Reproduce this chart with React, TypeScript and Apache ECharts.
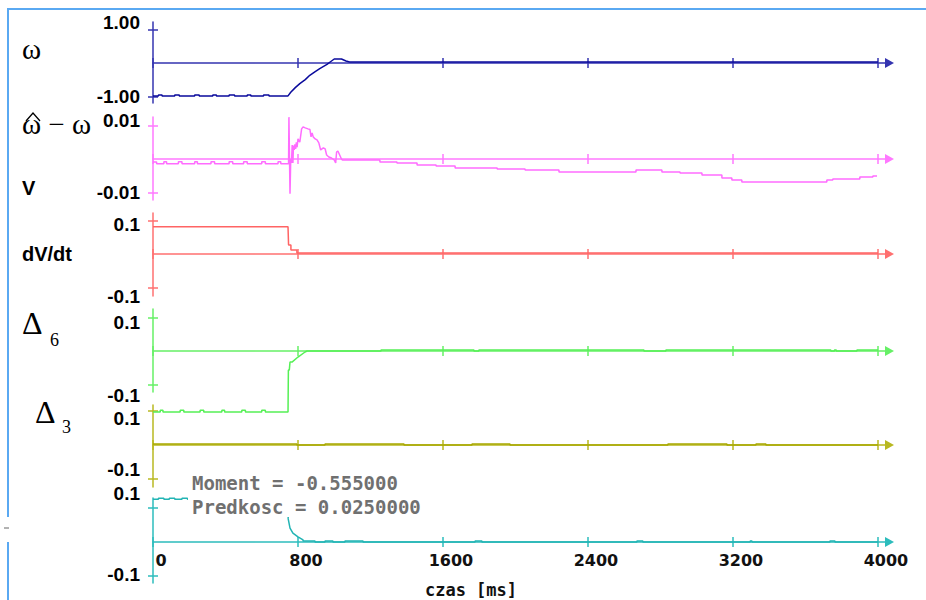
import React, { useEffect, useRef } from 'react';
import * as echarts from 'echarts';

// ---------- data (time in ms, value) ----------
const xTicks = [0, 800, 1600, 2400, 3200, 4000];
const yTickValues = [1, 0.01, 0.1, 0.1, 0.1, 0.1];
const yTickLabels = [
  ['-1.00', '1.00'],
  ['-0.01', '0.01'],
  ['-0.1', '0.1'],
  ['-0.1', '0.1'],
  ['-0.1', '0.1'],
  ['-0.1', '0.1'],
];

const omegaData: [number, number][] = [
  [0, -0.99], [30, -0.99], [30, -0.96], [50, -0.96], [50, -0.99], [120, -0.99], [120, -0.96], [145, -0.96],
  [145, -0.99], [230, -0.99], [230, -0.96], [255, -0.96], [255, -0.99], [330, -0.99], [330, -0.96], [350, -0.96],
  [350, -0.99], [420, -0.99], [420, -0.96], [450, -0.96], [450, -0.99], [520, -0.99], [520, -0.96], [540, -0.96],
  [540, -0.99], [610, -0.99], [610, -0.96], [640, -0.96], [640, -0.99], [745, -0.99],
  [760, -0.88], [785, -0.74], [810, -0.62], [840, -0.5], [865, -0.37], [895, -0.26], [920, -0.17], [960, -0.04],
  [985, 0.06], [1000, 0.12], [1040, 0.12], [1065, 0.06], [1085, 0.03], [4000, 0.03],
];

const errorData: [number, number][] = [
  [0, -0.0009], [20, -0.0009], [20, -0.0014], [60, -0.0014], [60, -0.0008], [75, -0.0008], [75, -0.0014],
  [140, -0.0014], [140, -0.0008], [160, -0.0008], [160, -0.0014], [230, -0.0014], [230, -0.0008], [245, -0.0008],
  [245, -0.0014], [320, -0.0014], [320, -0.0008], [340, -0.0008], [340, -0.0014], [420, -0.0014], [420, -0.0008],
  [440, -0.0008], [440, -0.0014], [500, -0.0014], [500, -0.0008], [520, -0.0008], [520, -0.0014], [600, -0.0014],
  [600, -0.0008], [620, -0.0008], [620, -0.0014], [690, -0.0014], [690, -0.0008], [705, -0.0008], [705, -0.0014],
  [748, -0.0014], [750, 0.0125], [753, 0.0125], [756, -0.0104], [760, 0.0], [764, -0.0012], [768, 0.0042],
  [772, -0.0012], [775, 0.004], [779, 0.0027], [783, 0.0044], [787, 0.003], [791, 0.005], [795, 0.0035],
  [800, 0.006], [810, 0.005], [820, 0.009], [828, 0.0096], [840, 0.0093], [855, 0.009], [866, 0.0088],
  [872, 0.0066], [878, 0.0078], [884, 0.0066], [895, 0.006], [905, 0.0057], [915, 0.0048], [925, 0.0027],
  [940, 0.0033], [950, 0.003], [958, 0.0012], [970, 0.0006], [985, 0.0003], [1000, -0.0003], [1008, -0.0012],
  [1013, 0.0021], [1020, 0.0024], [1030, 0.0012], [1040, 0.0], [1045, -0.0003],
  [1252, -0.0003], [1252, -0.0009], [1346, -0.0009], [1346, -0.0012], [1457, -0.0012], [1457, -0.0018],
  [1562, -0.0018], [1562, -0.0021], [1667, -0.0021], [1667, -0.0027], [1899, -0.0027], [1899, -0.003],
  [2053, -0.003], [2053, -0.0033], [2240, -0.0033], [2240, -0.0039], [2665, -0.0039], [2665, -0.0033],
  [2808, -0.0033], [2808, -0.0039], [2908, -0.0039], [2908, -0.0042], [3029, -0.0042], [3029, -0.0048],
  [3139, -0.0048], [3139, -0.0057], [3194, -0.0057], [3194, -0.0063], [3249, -0.0063], [3249, -0.0069],
  [3718, -0.0069], [3718, -0.0063], [3751, -0.0063], [3751, -0.006], [3900, -0.006], [3900, -0.0054],
  [3972, -0.0054], [3972, -0.0051], [3995, -0.0051],
];

const dVdtData: [number, number][] = [
  [0, 0.081], [745, 0.081], [748, 0.027], [761, 0.027], [761, 0.012], [794, 0.012], [794, 0.003], [4000, 0.003],
];

const delta6Data: [number, number][] = [
  [0, -0.182], [40, -0.182], [40, -0.177], [55, -0.177], [55, -0.182], [150, -0.182], [150, -0.177], [170, -0.177],
  [170, -0.182], [260, -0.182], [260, -0.177], [280, -0.177], [280, -0.182], [380, -0.182], [380, -0.177],
  [395, -0.177], [395, -0.182], [490, -0.182], [490, -0.177], [510, -0.177], [510, -0.182], [600, -0.182],
  [600, -0.177], [620, -0.177], [620, -0.182], [745, -0.182],
  [747, -0.057], [752, -0.057], [756, -0.033], [767, -0.033], [800, -0.018], [839, -0.003], [850, 0],
  [1258, 0], [1258, 0.003], [1771, 0.003], [1771, 0], [1798, 0], [1798, 0.003], [2709, 0.003], [2709, 0],
  [2830, 0], [2830, 0.003], [3740, 0.003], [3740, 0], [3760, 0], [3760, 0.003], [3770, 0.003], [3770, 0],
  [3884, 0], [3884, 0.003], [4000, 0.003],
];

const delta3Data: [number, number][] = [
  [0, 0.003], [794, 0.003], [794, 0], [949, 0], [949, 0.003], [1385, 0.003], [1385, 0], [1760, 0],
  [1760, 0.003], [1970, 0.003], [1970, 0], [2841, 0], [2841, 0.003], [3167, 0.003], [3167, 0], [3327, 0],
  [3327, 0.003], [3382, 0.003], [3382, 0], [4000, 0],
];

const speedData: [number, number][] = [
  [0, 0.126], [30, 0.126], [30, 0.129], [60, 0.129], [60, 0.126], [90, 0.126], [90, 0.129], [120, 0.129],
  [120, 0.126], [160, 0.126], [160, 0.129], [190, 0.129], [190, 0.126], [745, 0.126],
  [746, 0.068], [756, 0.041], [772, 0.026], [800, 0.015], [828, 0.006], [828, 0.003], [894, 0.003], [894, 0],
  [949, 0], [949, 0.003], [993, 0.003], [993, 0], [1059, 0], [1059, 0.003], [1159, 0.003], [1159, 0],
  [1777, 0], [1777, 0.003], [1815, 0.003], [1815, 0], [2670, 0], [2670, 0.003], [2703, 0.003], [2703, 0],
  [3295, 0], [3295, 0.003], [3305, 0.003], [3305, 0], [3735, 0], [3735, 0.003], [3763, 0.003], [3763, 0],
  [4000, 0],
];

const seriesData = [omegaData, errorData, dVdtData, delta6Data, delta3Data, speedData];

// ---------- layout / style ----------
const panels = [
  { top: 22, bottom: 103, min: -1.203, max: 1.233, line: '#0a0a9c', axis: '#3434b0', shift: [0, -7.5] },
  { top: 117, bottom: 200, min: -0.01224, max: 0.01254, line: '#ff6cff', axis: '#ff78ff', shift: [0, -5.5] },
  { top: 213, bottom: 296, min: -0.1254, max: 0.1224, line: '#ff6464', axis: '#ff7070', shift: [9, 4] },
  { top: 309, bottom: 392, min: -0.1224, max: 0.1254, line: '#55f055', axis: '#66f066', shift: [11, 5] },
  { top: 405, bottom: 487, min: -0.1235, max: 0.1176, line: '#a8a800', axis: '#b8b820', shift: [-10, 8] },
  { top: 498, bottom: 583, min: -0.1206, max: 0.1294, line: '#22b4b4', axis: '#2cbcbc', shift: [-1, -14] },
];

const LEFT = 153;
const WIDTH = 734;
const XMAX = 4050;

function pad(shift: number) {
  return shift >= 0 ? [2 * shift, 0, 0, 0] : [0, 0, -2 * shift, 0];
}

export default function App() {
  const ref = useRef<HTMLDivElement>(null);

  useEffect(() => {
    if (!ref.current) return;
    const chart = echarts.init(ref.current, null, { renderer: 'svg' });

    const grid: any[] = [];
    const xAxis: any[] = [];
    const yAxis: any[] = [];
    const series: any[] = [];

    panels.forEach((p, i) => {
      grid.push({ left: LEFT, width: WIDTH, top: p.top, height: p.bottom - p.top, outerBoundsMode: 'none' });
      const t = yTickValues[i];
      const labels = yTickLabels[i];
      const labelFont = { fontFamily: '"Liberation Sans", Arial, sans-serif', fontWeight: 'bold', fontSize: 19, color: '#000' };
      xAxis.push({
        gridIndex: i, type: 'value', min: 0, max: XMAX, position: 'bottom',
        axisLine: {
          onZero: true, onZeroAxisIndex: 2 * i,
          lineStyle: { color: p.axis, width: 1.5 },
          symbol: ['none', 'triangle'], symbolSize: [10, 9], symbolOffset: [0, 2.5],
        },
        axisTick: { show: true, customValues: xTicks, length: 5, lineStyle: { color: p.axis, width: 1.5 } },
        axisLabel: i === 5
          ? {
              show: true, customValues: xTicks, margin: -31, padding: [0, 0, 0, 16],
              formatter: (v: number) => String(v),
              fontFamily: '"DejaVu Sans", sans-serif', fontWeight: 'bold', fontSize: 16, color: '#111',
            }
          : { show: false },
        splitLine: { show: false },
      });
      xAxis.push({
        gridIndex: i, type: 'value', min: 0, max: XMAX, position: 'top',
        axisLine: { show: false, onZero: true, onZeroAxisIndex: 2 * i },
        axisTick: { show: true, customValues: xTicks, length: 5, lineStyle: { color: p.axis, width: 1.5 } },
        axisLabel: { show: false },
        splitLine: { show: false },
      });
      yAxis.push({
        gridIndex: i, type: 'value', min: p.min, max: p.max, position: 'left',
        axisLine: { show: true, onZero: true, onZeroAxisIndex: 2 * i, lineStyle: { color: p.axis, width: 1.5 } },
        axisTick: { show: true, customValues: [-t, t], length: 5, lineStyle: { color: p.axis, width: 1.5 } },
        axisLabel: {
          show: true, customValues: [-t, t], margin: 13,
          formatter: (v: number) => (v > 0 ? `{t|${labels[1]}}` : `{b|${labels[0]}}`),
          rich: {
            t: { ...labelFont, padding: pad(p.shift[1]) },
            b: { ...labelFont, padding: pad(p.shift[0]) },
          },
        },
        splitLine: { show: false },
      });
      yAxis.push({
        gridIndex: i, type: 'value', min: p.min, max: p.max, position: 'right',
        axisLine: { show: false, onZero: true, onZeroAxisIndex: 2 * i },
        axisTick: { show: true, customValues: [-t, t], length: 5, lineStyle: { color: p.axis, width: 1.5 } },
        axisLabel: { show: false },
        splitLine: { show: false },
      });
      series.push({
        type: 'line', xAxisIndex: 2 * i, yAxisIndex: 2 * i, data: seriesData[i],
        showSymbol: false, symbol: 'none', clip: false, z: 3,
        lineStyle: { color: p.line, width: 1.5 },
      });
    });

    const serif = '"Liberation Serif", "Times New Roman", serif';
    const sansBold = 'bold 20px "Liberation Sans", Arial, sans-serif';
    const graphic: any[] = [
      { type: 'line', shape: { x1: 7, y1: 9, x2: 926, y2: 9 }, style: { stroke: '#5aa9f2', lineWidth: 2 } },
      { type: 'line', shape: { x1: 8, y1: 8, x2: 8, y2: 517 }, style: { stroke: '#5aa9f2', lineWidth: 2 } },
      { type: 'line', shape: { x1: 8, y1: 542, x2: 8, y2: 600 }, style: { stroke: '#5aa9f2', lineWidth: 2 } },
      { type: 'line', shape: { x1: 4, y1: 528, x2: 9, y2: 528 }, style: { stroke: '#666', lineWidth: 1 } },
      { type: 'text', x: 22, y: 49, style: { text: 'ω', font: `29px ${serif}`, fill: '#000', verticalAlign: 'middle' } },
      { type: 'polyline', shape: { points: [[26, 121], [33, 113], [40, 121]] }, style: { stroke: '#000', lineWidth: 1.3, fill: 'none' } },
      { type: 'text', x: 22, y: 124, style: { text: 'ω − ω', font: `29px ${serif}`, fill: '#000', verticalAlign: 'middle' } },
      { type: 'text', x: 22, y: 188, style: { text: 'V', font: sansBold, fill: '#000', verticalAlign: 'middle' } },
      { type: 'text', x: 22, y: 254, style: { text: 'dV/dt', font: sansBold, fill: '#000', verticalAlign: 'middle' } },
      { type: 'text', x: 22, y: 323, style: { text: 'Δ', font: `32px ${serif}`, fill: '#000', verticalAlign: 'middle' } },
      { type: 'text', x: 50, y: 340, style: { text: '6', font: `18px ${serif}`, fill: '#000', verticalAlign: 'middle' } },
      { type: 'text', x: 35, y: 412, style: { text: 'Δ', font: `32px ${serif}`, fill: '#000', verticalAlign: 'middle' } },
      { type: 'text', x: 62, y: 427, style: { text: '3', font: `18px ${serif}`, fill: '#000', verticalAlign: 'middle' } },
      { type: 'rect', z: 50, shape: { x: 188, y: 473, width: 240, height: 44 }, style: { fill: '#ffffff' } },
      { type: 'text', z: 51, x: 192, y: 483, style: { text: 'Moment = -0.555000', font: 'bold 19px "DejaVu Sans Mono", monospace', fill: '#707070', verticalAlign: 'middle' } },
      { type: 'text', z: 51, x: 192, y: 507, style: { text: 'Predkosc = 0.0250000', font: 'bold 19px "DejaVu Sans Mono", monospace', fill: '#707070', verticalAlign: 'middle' } },
      { type: 'text', x: 471, y: 590, style: { text: 'czas [ms]', font: 'bold 17px "DejaVu Sans Mono", monospace', fill: '#111', align: 'center', verticalAlign: 'middle' } },
    ];

    chart.setOption({
      animation: false,
      backgroundColor: '#ffffff',
      grid, xAxis, yAxis, series, graphic,
    });

    return () => chart.dispose();
  }, []);

  return (
    <div
      ref={ref}
      style={{ position: 'fixed', left: 0, top: 0, width: 926, height: 600, background: '#fff' }}
    />
  );
}
